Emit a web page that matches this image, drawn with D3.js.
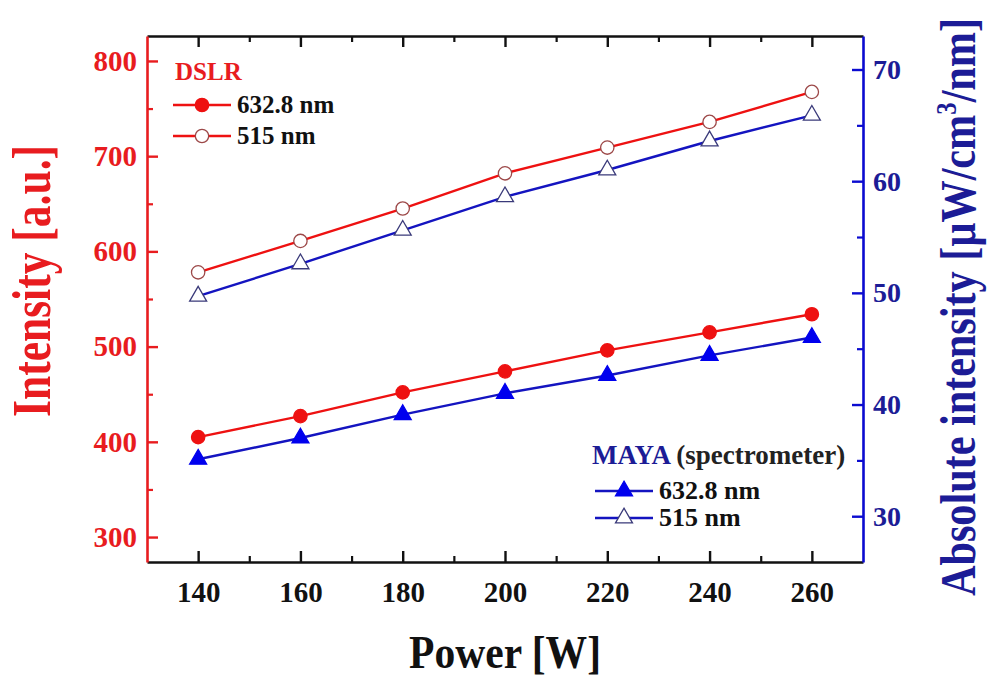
<!DOCTYPE html>
<html>
<head>
<meta charset="utf-8">
<script src="https://cdn.jsdelivr.net/npm/d3@7/dist/d3.min.js"></script>
<style>
  body { margin: 0; background: #fff; }
  svg { display: block; }
  text { font-family: "Liberation Serif", "Times New Roman", serif; font-weight: bold; }
</style>
</head>
<body>
<svg width="987" height="679"></svg>
<script>
// данные
const power = [140, 160, 180, 200, 220, 240, 260];
const dslr632 = [405, 427, 452, 474, 496, 515, 534];   // левая ось, a.u.
const dslr515 = [578, 611, 645, 682, 709, 736, 767.5];
const maya632 = [35.1, 37.0, 39.1, 41.0, 42.6, 44.4, 46.0]; // правая ось, мкВт/см3/нм
const maya515 = [49.7, 52.6, 55.6, 58.6, 61.0, 63.6, 65.9];

const ticksX = [140, 160, 180, 200, 220, 240, 260];
const minorX = [150, 170, 190, 210, 230, 250];
const ticksL = [300, 400, 500, 600, 700, 800];
const minorL = [350, 450, 550, 650, 750];
const ticksR = [30, 40, 50, 60, 70];
const minorR = [35, 45, 55, 65];

const RED = "#e81c1f", BLUE = "#0b0bd0", NAVY = "#1c1c96";

const svg = d3.select("svg");
const area = { left: 147, right: 863, top: 36, bottom: 562 };

const scX = d3.scaleLinear().domain([130, 270]).range([area.left, area.right]);
const scL = d3.scaleLinear().domain([273.8, 826.2]).range([area.bottom, area.top]);
const scR = d3.scaleLinear().domain([25.9, 73.0]).range([area.bottom, area.top]);

// оси: основные и дополнительные деления смотрят внутрь
function drawAxis(axisFn, scale, pos, major, minor, color, showLabels) {
  const g = svg.append("g").attr("transform", pos);
  g.call(axisFn(scale).tickValues(major).tickSizeInner(-11).tickSizeOuter(0)
    .tickPadding(showLabels ? 10 : 0).tickFormat(showLabels ? d3.format("d") : ""));
  g.select(".domain").attr("stroke", color).attr("stroke-width", 2.6);
  g.selectAll(".tick line").attr("stroke", color).attr("stroke-width", 2.4);
  const m = svg.append("g").attr("transform", pos);
  m.call(axisFn(scale).tickValues(minor).tickSizeInner(-6).tickSizeOuter(0).tickFormat(""));
  m.select(".domain").remove();
  m.selectAll(".tick line").attr("stroke", color).attr("stroke-width", 2.2);
  return g;
}

const gx = drawAxis(d3.axisBottom, scX, `translate(0,${area.bottom})`, ticksX, minorX, "#111", true);
drawAxis(d3.axisTop, scX, `translate(0,${area.top})`, ticksX, minorX, "#111", false);
const gl = drawAxis(d3.axisLeft, scL, `translate(${area.left},0)`, ticksL, minorL, RED, true);
const gr = drawAxis(d3.axisRight, scR, `translate(${area.right},0)`, ticksR, minorR, BLUE, true);

gx.selectAll("text").attr("font-size", 29).attr("fill", "#111").attr("dy", "1.05em");
gl.selectAll("text").attr("font-size", 29).attr("fill", RED);
gr.selectAll("text").attr("font-size", 28).attr("fill", NAVY);

// подписи осей
svg.append("text")
  .attr("x", scX(200)).attr("y", 668)
  .attr("text-anchor", "middle").attr("font-size", 46)
  .attr("textLength", 192).attr("lengthAdjust", "spacingAndGlyphs")
  .attr("fill", "#111").text("Power [W]");

svg.append("text")
  .attr("transform", "translate(50,281) rotate(-90)")
  .attr("text-anchor", "middle").attr("font-size", 54)
  .attr("textLength", 272).attr("lengthAdjust", "spacingAndGlyphs")
  .attr("fill", RED).text("Intensity [a.u.]");

const tR = svg.append("text")
  .attr("transform", "translate(975,307) rotate(-90)")
  .attr("text-anchor", "middle").attr("font-size", 51)
  .attr("textLength", 578).attr("lengthAdjust", "spacingAndGlyphs")
  .attr("fill", NAVY);
tR.append("tspan").text("Absolute intensity [\u00b5W/cm");
tR.append("tspan").attr("font-size", 30).attr("dy", -19).text("3");
tR.append("tspan").attr("dy", 19).text("/nm]");

// линии и маркеры
const line = (sy) => d3.line().x((d, i) => scX(power[i])).y(d => sy(d));
const series = [
  { vals: dslr632, sy: scL, color: "#ee1111", type: "circle", fill: "#ee1111", stroke: "#ee1111" },
  { vals: dslr515, sy: scL, color: "#ee1111", type: "circle", fill: "#fff", stroke: "#9c4848" },
  { vals: maya632, sy: scR, color: "#1414c0", type: "tri", fill: "#0000ee", stroke: "#0000ee" },
  { vals: maya515, sy: scR, color: "#1414c0", type: "tri", fill: "#fff", stroke: "#3a3a7a" }
];
const symCircle = d3.symbol().type(d3.symbolCircle).size(140);
const symTri = d3.symbol().type(d3.symbolTriangle).size(125);

series.forEach(s => {
  svg.append("path").datum(s.vals)
    .attr("d", line(s.sy)).attr("fill", "none")
    .attr("stroke", s.color).attr("stroke-width", 2.4);
  svg.selectAll(null).data(s.vals).enter().append("path")
    .attr("d", s.type === "circle" ? symCircle : symTri)
    .attr("transform", (d, i) => `translate(${scX(power[i])},${s.sy(d)})`)
    .attr("fill", s.fill).attr("stroke", s.stroke).attr("stroke-width", 1.3);
});

// легенды
function legendRow(x, y, s, label, fs) {
  svg.append("line").attr("x1", x).attr("x2", x + 58).attr("y1", y).attr("y2", y)
    .attr("stroke", s.color).attr("stroke-width", 2.4);
  svg.append("path").attr("d", s.type === "circle" ? symCircle : symTri)
    .attr("transform", `translate(${x + 29},${y})`)
    .attr("fill", s.fill).attr("stroke", s.stroke).attr("stroke-width", 1.3);
  svg.append("text").attr("x", x + 64).attr("y", y + 8).attr("font-size", fs)
    .attr("fill", "#111").text(label);
}

svg.append("text").attr("x", 175).attr("y", 80).attr("font-size", 25)
  .attr("fill", RED).text("DSLR");
legendRow(173, 105, series[0], "632.8 nm", 25);
legendRow(173, 136, series[1], "515 nm", 25);

const mt = svg.append("text").attr("x", 592).attr("y", 464).attr("font-size", 27);
mt.append("tspan").attr("fill", NAVY).text("MAYA");
mt.append("tspan").attr("fill", "#222").attr("font-size", 27).text(" (spectrometer)");
legendRow(595, 491, series[2], "632.8 nm", 26);
legendRow(595, 518, series[3], "515 nm", 26);
</script>
</body>
</html>
